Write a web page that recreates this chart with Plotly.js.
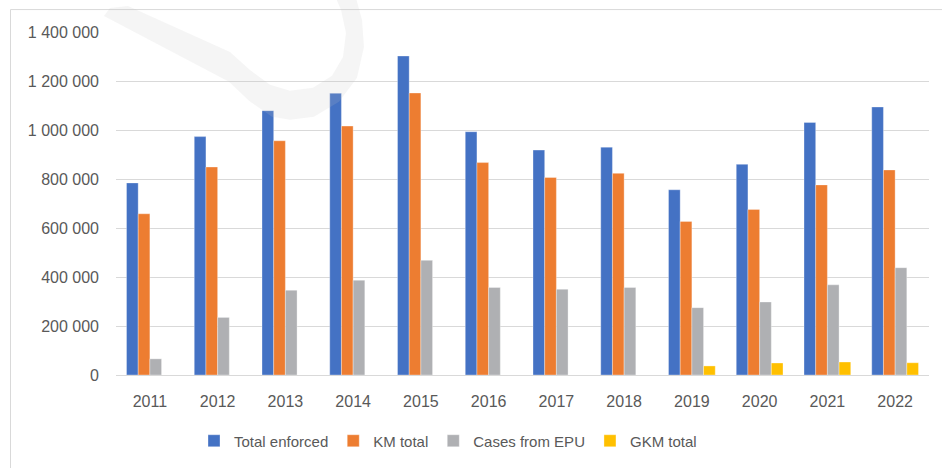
<!DOCTYPE html>
<html>
<head>
<meta charset="utf-8">
<script src="https://cdn.plot.ly/plotly-3.0.1.min.js"></script>
<style>html,body{margin:0;padding:0;background:#fff;}#chart{width:942px;height:468px;}</style>
</head>
<body>
<div id="chart"></div>
<script>
const years = ["2011","2012","2013","2014","2015","2016","2017","2018","2019","2020","2021","2022"];
const totalEnforced = [784000, 973000, 1079000, 1150000, 1302000, 993000, 918000, 930000, 756000, 860000, 1031000, 1094000];
const kmTotal = [658000, 849000, 956000, 1016000, 1151000, 867000, 806000, 823000, 627000, 676000, 776000, 837000];
const casesFromEPU = [66000, 235000, 346000, 387000, 468000, 357000, 350000, 357000, 275000, 298000, 368000, 438000];
const gkmTotal = [null, null, null, null, null, null, null, null, 37000, 49000, 53000, 50000];
const seriesNames = ["Total enforced", "KM total", "Cases from EPU", "GKM total"];
const seriesColors = ["#4472C4", "#ED7D31", "#AFB0B3", "#FFC000"];

const W = 942, H = 468;
const M = {l: 116, r: 13, t: 32, b: 92};
const PW = W - M.l - M.r, PH = H - M.t - M.b;
const px = x => (x - M.l) / PW;
const py = y => (H - M.b - y) / PH;

const allSeries = [totalEnforced, kmTotal, casesFromEPU, gkmTotal];
const traces = allSeries.map((vals, i) => ({
  type: "bar",
  name: seriesNames[i],
  x: years,
  y: vals,
  marker: {color: seriesColors[i], line: {width: 0.6, color: "rgba(255,255,255,0.55)"}},
  hoverinfo: "skip"
}));

// background watermark outline (pixel positions -> paper fractions)
const wmOutline = [
  [104,16],[110,8],[128,6],[230,52],[250,70],[270,85],[290,91],[313,88],[332,76],[343,57],
  [346,33],[341,10],[336,-2],[356,-2],[362,20],[364,47],[357,78],[339,102],[314,117],
  [290,120],[272,117],[249,101],[229,82]
];
const wmPath = wmOutline.map((p, i) => (i ? "L" : "M") + px(p[0]).toFixed(4) + "," + py(p[1]).toFixed(4)).join(" ") + " Z";

const layout = {
  width: W, height: H,
  margin: M,
  paper_bgcolor: "#ffffff",
  plot_bgcolor: "#ffffff",
  separators: ", ",
  font: {family: "Liberation Sans, Arial, sans-serif", color: "#595959", size: 16},
  barmode: "group",
  bargap: 0.31,
  bargroupgap: 0,
  showlegend: true,
  legend: {
    orientation: "h",
    x: px(194), xanchor: "left",
    y: py(441), yanchor: "middle",
    font: {size: 15, color: "#595959"},
    traceorder: "normal",
    itemclick: false
  },
  xaxis: {
    type: "category",
    showgrid: false,
    showline: true, linecolor: "#d9d9d9", linewidth: 1,
    ticks: "", ticklabelstandoff: 12,
    tickfont: {size: 16, color: "#595959"},
    fixedrange: true
  },
  yaxis: {
    range: [0, 1400000],
    dtick: 200000,
    tickformat: ",d",
    showgrid: true, gridcolor: "#d9d9d9", gridwidth: 1,
    zeroline: true, zerolinecolor: "#d9d9d9", zerolinewidth: 1,
    showline: false,
    ticks: "", ticklabelstandoff: 16,
    tickfont: {size: 16, color: "#595959"},
    fixedrange: true
  },
  shapes: [
    {type: "rect", xref: "paper", yref: "paper", layer: "below",
     x0: px(10.5), x1: px(1000), y0: py(9.5), y1: py(600),
     line: {color: "#d9d9d9", width: 1}, fillcolor: "rgba(0,0,0,0)"},
    {type: "path", xref: "paper", yref: "paper", layer: "above",
     path: wmPath, line: {width: 0}, fillcolor: "rgba(195,195,195,0.17)"}
  ]
};

Plotly.newPlot("chart", traces, layout, {displayModeBar: false, staticPlot: true});
</script>
</body>
</html>
